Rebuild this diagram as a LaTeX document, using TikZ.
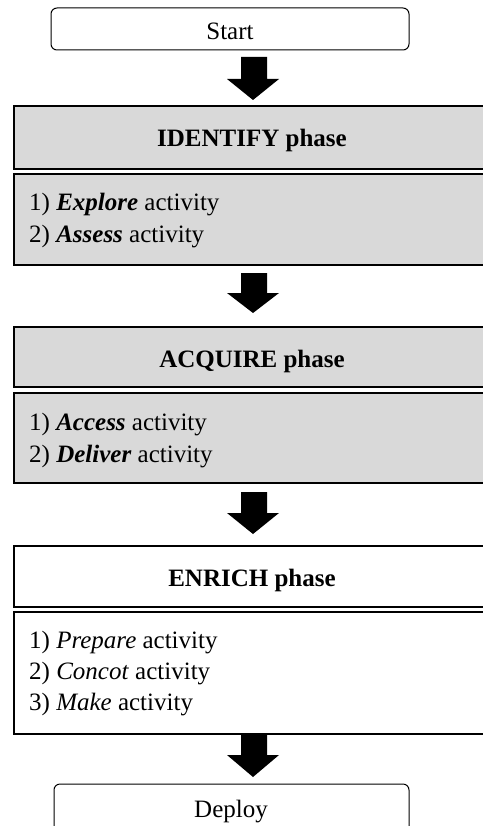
\documentclass[tikz,border=0pt]{standalone}
\usepackage{fontspec}
\setmainfont{Liberation Serif}
\begin{document}
\begin{tikzpicture}[x=1pt,y=-1pt,
  txt/.style={font=\fontsize{25}{31}\selectfont, inner sep=0pt},
  termbox/.style={draw, line width=1pt, rounded corners=6pt, fill=white},
  phasebox/.style={draw, line width=1.6pt, fill=#1},
  phasebox/.default=white,
  blockarr/.style={fill=black}
]
\definecolor{phasegray}{RGB}{217,217,217}
\useasboundingbox (0,0) rectangle (482,826);
\fill[white] (0,0) rectangle (482,826);

% shapes
\newcommand{\blockarrow}[4]{% name, top, neck, tip
  \coordinate (#1) at (253,#2);
  \fill[blockarr] (241,#2) -- (267,#2) -- (267,#3) -- (279,#3) -- (253,#4) -- (227,#3) -- (241,#3) -- cycle;}

% Start
\draw[termbox] (51,8) rectangle (409,50);
\node[txt, anchor=base] (start) at (230,40) {Start};

\blockarrow{arr1}{57}{79}{100}

% IDENTIFY
\draw[phasebox=phasegray] (14,106) rectangle (492,169);
\node[txt, anchor=base] (identify) at (252,146.5) {\textbf{IDENTIFY phase}};
\draw[phasebox=phasegray] (14,174) rectangle (492,265);
\node[txt, anchor=base west] (explore) at (29,211) {1) \textbf{\textit{Explore}} activity};
\node[txt, anchor=base west] (assess) at (29,242) {2) \textbf{\textit{Assess}} activity};

\blockarrow{arr2}{273}{293}{313}

% ACQUIRE
\draw[phasebox=phasegray] (14,327) rectangle (492,387);
\node[txt, anchor=base] (acquire) at (252,367) {\textbf{ACQUIRE phase}};
\draw[phasebox=phasegray] (14,393) rectangle (492,483);
\node[txt, anchor=base west] (access) at (29,430) {1) \textbf{\textit{Access}} activity};
\node[txt, anchor=base west] (deliver) at (29,462) {2) \textbf{\textit{Deliver}} activity};

\blockarrow{arr3}{492}{513}{534}

% ENRICH
\draw[phasebox] (14,546) rectangle (492,607);
\node[txt, anchor=base] (enrich) at (252,586) {\textbf{ENRICH phase}};
\draw[phasebox] (14,612) rectangle (492,734);
\node[txt, anchor=base west] (prepare) at (29,648) {1) \textit{Prepare} activity};
\node[txt, anchor=base west] (concot) at (29,679) {2) \textit{Concot} activity};
\node[txt, anchor=base west] (make) at (29,710) {3) \textit{Make} activity};

\blockarrow{arr4}{735}{755}{777}

% Deploy
\draw[termbox] (54,784) rectangle (409,840);
\node[txt, anchor=base] (deploy) at (231,817) {Deploy};
\end{tikzpicture}
\end{document}
